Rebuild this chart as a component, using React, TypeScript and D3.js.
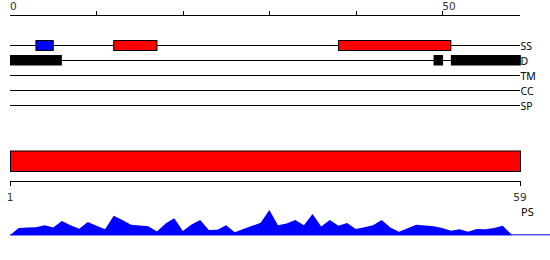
import React from "react";
import * as d3 from "d3";

const seqLength = 59;
const topTicks = [10, 20, 30, 40, 50];
const topTickLabels = [0, 50];
const trackNames = ["SS", "D", "TM", "CC", "SP"];
const ssStarts = [3, 12, 38];
const ssEnds = [5, 17, 51];
const ssColors = ["#0000ff", "#ff0000", "#ff0000"];
const dStarts = [0, 49, 51];
const dEnds = [6, 50.1, 59.1];
const bottomTicks = [1, 59];
const psValues = [
  0, 0.21, 0.22, 0.23, 0.29, 0.22, 0.41, 0.29, 0.19, 0.38,
  0.27, 0.17, 0.56, 0.44, 0.3, 0.28, 0.26, 0.11, 0.34, 0.49,
  0.12, 0.31, 0.44, 0.15, 0.16, 0.29, 0.09, 0.18, 0.27, 0.36,
  0.72, 0.29, 0.34, 0.44, 0.29, 0.61, 0.25, 0.44, 0.27, 0.35,
  0.18, 0.23, 0.29, 0.44, 0.22, 0.1, 0.2, 0.3, 0.28, 0.26,
  0.21, 0.13, 0.17, 0.1, 0.18, 0.17, 0.21, 0.27, 0.03,
];

export default function App() {
  const x = d3.scaleLinear().domain([0, seqLength]).range([10, 520]);
  const xb = d3.scaleLinear().domain([1, seqLength]).range([10, 520]);
  const yp = d3.scaleLinear().domain([0, 1]).range([235.3, 200.3]);
  const trackY = d3
    .scalePoint<string>()
    .domain(trackNames)
    .range([45, 105]);
  const axisFont = "DejaVu Sans, sans-serif";
  const labelFont = "Noto Sans, sans-serif";

  const area = d3
    .area<number>()
    .x((_, i) => x(i))
    .y0(yp(0))
    .y1((d) => yp(d));

  const ssY = trackY("SS")!;
  const dY = trackY("D")!;

  return (
    <svg
      width={550}
      height={260}
      style={{ position: "absolute", left: 0, top: 0 }}
    >
      {/* top axis */}
      <line x1={x(0)} x2={x(seqLength)} y1={15.5} y2={15.5} stroke="#000" />
      {topTicks.map((t) => (
        <line
          key={t}
          x1={Math.round(x(t)) + 0.5}
          x2={Math.round(x(t)) + 0.5}
          y1={11}
          y2={15.5}
          stroke="#000"
        />
      ))}
      {topTickLabels.map((t) => (
        <text
          key={t}
          x={x(t)}
          y={10}
          fontSize={10.5}
          fontFamily={axisFont}
          fill="#333"
        >
          {t}
        </text>
      ))}

      {/* tracks */}
      {trackNames.map((n) => (
        <g key={n}>
          <line
            x1={10}
            x2={x(seqLength)}
            y1={trackY(n)! + 0.5}
            y2={trackY(n)! + 0.5}
            stroke="#000"
          />
          <text
            x={520.5}
            y={trackY(n)! + 4.5}
            fontSize={10.5}
            fontFamily={labelFont}
            fill="#000"
          >
            {n}
          </text>
        </g>
      ))}
      {ssStarts.map((s, i) => (
        <rect
          key={"ss" + i}
          x={x(s)}
          y={ssY - 4.5}
          width={x(ssEnds[i]) - x(s)}
          height={10}
          fill={ssColors[i]}
          stroke="#000"
        />
      ))}
      {dStarts.map((s, i) => (
        <rect
          key={"d" + i}
          x={x(s)}
          y={dY - 5}
          width={x(dEnds[i]) - x(s)}
          height={10.5}
          fill="#000"
        />
      ))}

      {/* sequence bar */}
      <rect
        x={xb(1) + 0.5}
        y={151}
        width={xb(seqLength) - xb(1)}
        height={20.5}
        fill="#ff0000"
        stroke="#000"
      />
      <line x1={xb(1)} x2={xb(seqLength) + 0.5} y1={181.5} y2={181.5} stroke="#000" />
      {bottomTicks.map((t) => (
        <g key={t}>
          <line
            x1={Math.round(xb(t)) + 0.5}
            x2={Math.round(xb(t)) + 0.5}
            y1={181}
            y2={186}
            stroke="#000"
          />
          <text
            x={xb(t)}
            y={200.5}
            fontSize={10.5}
            fontFamily={axisFont}
            fill="#333"
            textAnchor="middle"
          >
            {t}
          </text>
        </g>
      ))}
      <text x={521} y={215.5} fontSize={11} fontFamily={labelFont} fill="#000">
        PS
      </text>

      {/* PS area */}
      <path d={area(psValues)!} fill="#0000ff" />
      <line x1={10} x2={550} y1={yp(0) - 0.5} y2={yp(0) - 0.5} stroke="#0000ff" />
    </svg>
  );
}
